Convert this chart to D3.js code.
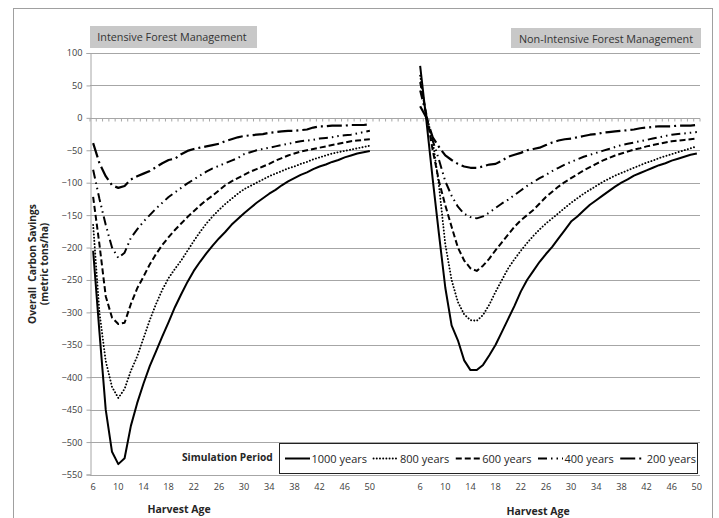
<!DOCTYPE html>
<html>
<head>
<meta charset="utf-8">
<script src="https://cdn.jsdelivr.net/npm/d3@7"></script>
<style>
  body { margin: 0; background: #fff; }
  text { font-family: "Open Sans", sans-serif; }
</style>
</head>
<body>
<div id="chart"></div>
<script>
// categories: harvest ages, repeated for both panels with a blank gap between
const harvestAges = [6, 7, 8, 9, 10, 11, 12, 13, 14, 15, 16, 17, 18, 19, 20, 21, 22, 23, 24, 25, 26, 27, 28,
  29, 30, 31, 32, 33, 34, 35, 36, 37, 38, 39, 40, 41, 42, 43, 44, 45, 46, 47, 48, 49, 50];
const gapCount = 7;
const periods = ["1000 years", "800 years", "600 years", "400 years", "200 years"];
const yTicks = [100, 50, 0, -50, -100, -150, -200, -250, -300, -350, -400, -450, -500, -550];
const panelTitles = ["Intensive Forest Management", "Non-Intensive Forest Management"];

// Intensive forest management
const int1000 = [-205, -330, -450, -515, -534, -525, -475, -440, -410, -383, -360, -337, -315, -292, -272, -253,
  -236, -222, -209, -197, -186, -176, -165, -156, -147, -139, -131, -124, -117, -111, -104, -98, -93, -88, -84,
  -79, -75, -72, -68, -65, -61, -58, -55, -53, -51];
const int800 = [-165, -300, -375, -415, -432, -418, -390, -368, -340, -312, -287, -265, -247, -233, -220, -205,
  -190, -176, -163, -152, -142, -133, -125, -117, -110, -105, -100, -95, -90, -86, -82, -78, -75, -71, -68,
  -64, -61, -58, -55, -53, -51, -49, -47, -45, -43];
const int600 = [-122, -195, -275, -308, -318, -316, -287, -263, -245, -226, -210, -196, -184, -173, -163, -153,
  -144, -135, -127, -120, -112, -104, -98, -93, -88, -83, -79, -75, -71, -66, -62, -58, -55, -52, -50,
  -48, -46, -44, -42, -40, -38, -36, -35, -34, -33];
const int400 = [-80, -125, -165, -200, -216, -208, -185, -172, -160, -150, -140, -131, -122, -115, -108, -101,
  -95, -89, -83, -78, -74, -70, -66, -62, -56, -53, -50, -48, -46, -44, -42, -40, -38, -36, -35,
  -34, -32, -31, -30, -28, -27, -26, -24, -22, -20];
const int200 = [-39, -70, -90, -104, -108, -105, -95, -90, -86, -82, -76, -70, -65, -63, -56, -51,
  -48, -46, -44, -42, -40, -36, -33, -30, -28, -27, -26, -25, -23, -22, -21, -20, -20, -19, -18,
  -15, -13, -13, -12, -12, -12, -11, -11, -11, -10];

// Non-intensive forest management
const non1000 = [80, -5, -95, -180, -262, -320, -343, -374, -389, -389, -381, -366, -350, -330, -310, -290,
  -268, -250, -236, -222, -210, -199, -186, -173, -160, -152, -143, -134, -127, -120, -113, -106, -100, -95, -89,
  -85, -81, -77, -73, -70, -66, -63, -60, -57, -55];
const non800 = [65, 0, -35, -105, -195, -250, -284, -303, -312, -313, -304, -288, -268, -250, -232, -218,
  -205, -193, -182, -172, -163, -155, -147, -139, -131, -124, -117, -111, -105, -99, -94, -89, -85, -81, -77,
  -73, -69, -66, -62, -59, -56, -53, -50, -47, -44];
const non600 = [55, 5, -50, -98, -135, -168, -200, -220, -232, -236, -228, -217, -204, -192, -180, -168,
  -158, -150, -142, -132, -122, -114, -106, -99, -93, -87, -81, -76, -71, -66, -62, -58, -55, -52, -49,
  -47, -44, -42, -40, -38, -36, -35, -34, -33, -32];
const non400 = [42, 3, -35, -65, -98, -120, -137, -148, -153, -155, -152, -146, -139, -132, -126, -119,
  -112, -105, -99, -93, -88, -82, -77, -72, -68, -64, -60, -57, -54, -51, -48, -45, -42, -40, -38,
  -36, -34, -32, -30, -28, -26, -25, -24, -23, -22];
const non200 = [18, 0, -30, -45, -58, -65, -71, -75, -77, -77, -75, -72, -71, -66, -60, -57,
  -54, -50, -48, -46, -42, -38, -35, -33, -32, -30, -28, -26, -25, -23, -22, -21, -20, -19, -18,
  -16, -15, -14, -13, -13, -13, -12, -12, -12, -11];

const intensive = [int1000, int800, int600, int400, int200];
const nonIntensive = [non1000, non800, non600, non400, non200];

const lineStyles = [
  { dash: null, width: 2, cap: "butt" },
  { dash: "0.1,3.1", width: 1.9, cap: "round" },
  { dash: "6,3", width: 2, cap: "butt" },
  { dash: "9,4,1.5,4,1.5,4", width: 2, cap: "butt" },
  { dash: "15,4,2,4", width: 2.2, cap: "butt" }
];

const width = 719, height = 518;
const gridColor = "#a6a6a6", labelColor = "#404040";

const svg = d3.select("#chart").append("svg")
  .attr("width", width)
  .attr("height", height);

// outer chart border
svg.append("rect")
  .attr("x", 13.5).attr("y", 8.5)
  .attr("width", 699).attr("height", 520)
  .attr("fill", "none")
  .attr("stroke", "#a0a0a0");

const leftKeys = harvestAges.map(a => "L" + a);
const gapKeys = d3.range(gapCount).map(i => "gap" + i);
const rightKeys = harvestAges.map(a => "R" + a);
const categories = leftKeys.concat(gapKeys, rightKeys);

const x = d3.scaleBand().domain(categories).range([90, 700]);
const y = d3.scaleLinear().domain([-550, 100]).range([474.5, 53]);
const cx = k => x(k) + x.bandwidth() / 2;

// gridlines
svg.append("g")
  .selectAll("line")
  .data(yTicks.filter(t => t !== 0))
  .join("line")
  .attr("x1", 90).attr("x2", 700)
  .attr("y1", d => Math.round(y(d)) + 0.5)
  .attr("y2", d => Math.round(y(d)) + 0.5)
  .attr("stroke", gridColor);

// y axis
const yAxis = svg.append("g")
  .attr("transform", "translate(90.5,0)")
  .call(d3.axisLeft(y).tickValues(yTicks).tickSize(4).tickPadding(4).tickFormat(d3.format("d")));
yAxis.select(".domain").attr("stroke", gridColor);
yAxis.selectAll(".tick line").attr("stroke", gridColor);
yAxis.selectAll(".tick text")
  .attr("fill", labelColor)
  .style("font-size", "9.2px")
  .style("font-family", "'Open Sans', sans-serif");

// horizontal axis line at zero with category tick marks
const y0 = Math.round(y(0)) + 0.5;
svg.append("line")
  .attr("x1", 90).attr("x2", 700)
  .attr("y1", y0).attr("y2", y0)
  .attr("stroke", gridColor);
svg.append("g")
  .selectAll("line")
  .data(categories.concat(["end"]))
  .join("line")
  .attr("x1", d => (d === "end" ? 700 : x(d)))
  .attr("x2", d => (d === "end" ? 700 : x(d)))
  .attr("y1", y0).attr("y2", y0 + 3)
  .attr("stroke", gridColor);

// category labels, every fourth age, at the bottom
const labelKeys = categories.filter((k, i) => i % 4 === 0 && !k.startsWith("gap"));
const xAxis = svg.append("g")
  .attr("transform", "translate(0,474.5)")
  .call(d3.axisBottom(x).tickValues(labelKeys).tickSize(0).tickPadding(9).tickFormat(k => k.slice(1)));
xAxis.select(".domain").remove();
xAxis.selectAll(".tick text")
  .attr("fill", labelColor)
  .style("font-size", "9.2px")
  .style("font-family", "'Open Sans', sans-serif");

// series lines
const line = d3.line()
  .x(d => cx(d.key))
  .y(d => y(d.value));

function drawPanel(series, keys) {
  series.forEach((vals, i) => {
    const st = lineStyles[i];
    svg.append("path")
      .datum(vals.map((v, j) => ({ key: keys[j], value: v })))
      .attr("d", line)
      .attr("fill", "none")
      .attr("stroke", "#000")
      .attr("stroke-width", st.width)
      .attr("stroke-linejoin", "round")
      .attr("stroke-linecap", st.cap)
      .attr("stroke-dasharray", st.dash);
  });
}
drawPanel(intensive, leftKeys);
drawPanel(nonIntensive, rightKeys);

// panel title boxes
const titleBoxes = [
  { x: 90, y: 26, w: 167, h: 22, tx: 172, ty: 41 },
  { x: 511, y: 28, w: 190, h: 20, tx: 606, ty: 42.5 }
];
titleBoxes.forEach((b, i) => {
  svg.append("rect")
    .attr("x", b.x).attr("y", b.y)
    .attr("width", b.w).attr("height", b.h)
    .attr("fill", "#c8c8c8");
  svg.append("text")
    .attr("x", b.tx).attr("y", b.ty)
    .attr("text-anchor", "middle")
    .attr("fill", "#333")
    .style("font-size", "10.8px")
    .text(panelTitles[i]);
});

// axis titles
const yTitle = svg.append("g")
  .attr("transform", "translate(35.5,264) rotate(-90)");
yTitle.append("text")
  .attr("text-anchor", "middle")
  .attr("y", 0)
  .style("font-size", "10.2px")
  .style("font-weight", "bold")
  .style("white-space", "pre")
  .attr("fill", "#262626")
  .text("Overall  Carbon Savings");
yTitle.append("text")
  .attr("text-anchor", "middle")
  .attr("y", 12)
  .style("font-size", "10.2px")
  .style("font-weight", "bold")
  .attr("fill", "#262626")
  .text("(metric tons/ha)");

[{ x: 179, y: 513 }, { x: 538, y: 515 }].forEach(p => {
  svg.append("text")
    .attr("x", p.x).attr("y", p.y)
    .attr("text-anchor", "middle")
    .attr("fill", "#262626")
    .style("font-size", "10.5px")
    .style("font-weight", "bold")
    .text("Harvest Age");
});

// legend
svg.append("text")
  .attr("x", 182).attr("y", 460.5)
  .attr("fill", "#262626")
  .style("font-size", "10.2px")
  .style("font-weight", "bold")
  .text("Simulation Period");

svg.append("rect")
  .attr("x", 279.5).attr("y", 443.5)
  .attr("width", 418).attr("height", 30)
  .attr("fill", "#fff")
  .attr("stroke", "#222");

const legend = svg.append("g");
const sampleW = 25;
const items = periods.map((p, i) => {
  const g = legend.append("g");
  const st = lineStyles[i];
  g.append("line")
    .attr("x1", 0).attr("x2", sampleW)
    .attr("y1", 0).attr("y2", 0)
    .attr("stroke", "#000")
    .attr("stroke-width", st.width)
    .attr("stroke-linecap", st.cap)
    .attr("stroke-dasharray", st.dash);
  const t = g.append("text")
    .attr("x", sampleW + 1.5)
    .attr("y", 4)
    .attr("fill", "#262626")
    .style("font-size", "11px")
    .text(p);
  return { g, w: sampleW + 1.5 + t.node().getComputedTextLength() };
});
const totalW = d3.sum(items, d => d.w);
const gap = (696 - 285 - totalW) / (items.length - 1);
let lx = 285;
items.forEach(it => {
  it.g.attr("transform", `translate(${lx},458.5)`);
  lx += it.w + gap;
});
</script>
</body>
</html>
